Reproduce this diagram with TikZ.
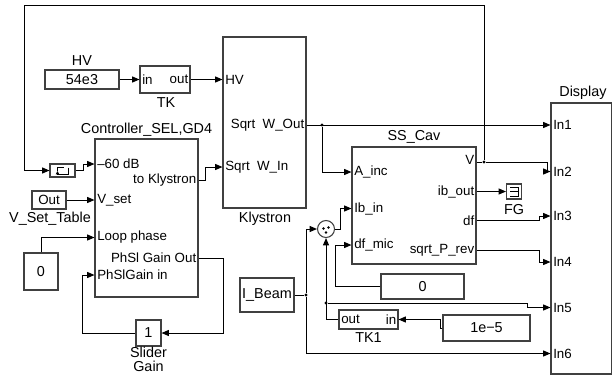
\documentclass[tikz,border=0pt]{standalone}
\usepackage{fontspec}
\setmainfont{Liberation Sans}
\usetikzlibrary{arrows.meta}
\tikzset{
  blk/.style={draw=black!75, line width=0.8pt, inner sep=0pt, fill=white},
  wh/.style 2 args={minimum width=#1*0.75pt, minimum height=#2*0.75pt},
  wire/.style={line width=0.75pt, black},
  arr/.style={wire, -{Triangle[length=5.5pt,width=4.5pt]}},
  jdot/.style={circle, fill=black, inner sep=0pt, minimum size=2.5pt},
  port/.style={font=\fontsize{10pt}{11pt}\selectfont, inner sep=0pt},
  lbl/.style={font=\fontsize{10.8pt}{12pt}\selectfont, inner sep=0pt},
  txt/.style={font=\fontsize{10.8pt}{12pt}\selectfont},
}
\begin{document}
\begin{tikzpicture}[x=0.75pt,y=-0.75pt]
\useasboundingbox (0,0) rectangle (613,375);

% ---------- blocks ----------
\node[blk, wh={74}{19}, txt] (hvc) at (82,79.5) {54e3};
\node[blk, wh={50}{27}] (tk) at (165,79.5) {};
\node[blk, wh={83}{171}] (klys) at (264.5,122.5) {};
\node[blk, wh={25}{13}] (delay) at (62.5,170.5) {};
\node[blk, wh={103}{158}] (ctrl) at (146.5,218) {};
\node[blk, wh={34}{18}, port] (vset) at (49,200) {Out};
\node[blk, wh={34}{37}, txt] (zeroA) at (41,271.5) {0};
\node[blk, wh={25}{26}, txt] (slider) at (148.5,333) {1};
\node[blk, wh={124}{117}] (ss) at (414,205.5) {};
\node[blk, wh={15}{15}] (fg) at (514,191.5) {};
\node[blk, wh={60.5}{271}] (disp) at (581.25,238.5) {};
\node[blk, circle, minimum size=17*0.75pt] (sum) at (326,229) {};
\node[blk, wh={54}{34}, txt] (ibeam) at (267,295) {I\_Beam};
\node[blk, wh={59}{19}] (tkone) at (368.5,319.5) {};
\node[blk, wh={83}{25}, txt] (zeroB) at (422.5,286.5) {0};
\node[blk, wh={87}{26}, txt] (cst) at (486.5,328) {1e−5};

% icons
\draw[line width=0.7pt] (68,167.5) -- (68,174) -- (57.5,174);
\draw[line width=0.7pt,-{Triangle[length=2.5pt,width=2.5pt]}] (57.5,174) -- (57.5,171);
\draw[line width=0.7pt] (57.5,171) -- (57.5,167.5) -- (64,167.5);
\draw[line width=0.7pt] (510,187) -- (518.5,187) -- (518.5,196) -- (510,196)
  (510,191.5) -- (518.5,191.5);
\fill (323.5,228.5) circle (1pt) (328.5,227.5) circle (1pt) (326,232.5) circle (1pt);

% ---------- block labels ----------
\node[lbl] (lhv) at (82,61) {HV};
\node[lbl] (ltk) at (166,103) {TK};
\node[lbl] (lctrl) at (146.5,130) {Controller\_SEL,GD4};
\node[lbl] (lklys) at (265,219) {Klystron};
\node[lbl] (lvset) at (50,219) {V\_Set\_Table};
\node[lbl] (lsl1) at (148.5,352.5) {Slider};
\node[lbl] (lsl2) at (148.5,366.5) {Gain};
\node[lbl] (lss) at (414,137) {SS\_Cav};
\node[lbl] (lfg) at (514,210) {FG};
\node[lbl] (ltk1) at (368.5,338) {TK1};
\node[lbl] (ldisp) at (583,93) {Display};

% ---------- port labels ----------
\node[port, anchor=west] (tkin) at (142,79.5) {in};
\node[port, anchor=east] (tkout) at (188.5,79.5) {out};
\node[port, anchor=west] (khv) at (225,79.5) {HV};
\node[port, anchor=east] (kwo) at (304.5,125) {Sqrt\ \ W\_Out};
\node[port, anchor=west] (kwi) at (225,167) {Sqrt\ \ W\_In};
\node[port, anchor=west] (c1) at (97,164) {–60 dB};
\node[port, anchor=east] (c2) at (196.5,180) {to Klystron};
\node[port, anchor=west] (c3) at (97,200) {V\_set};
\node[port, anchor=west] (c4) at (97,237.5) {Loop phase};
\node[port, anchor=east] (c5) at (196.5,258) {PhSl Gain Out};
\node[port, anchor=west] (c6) at (97,275) {PhSlGain in};
\node[port, anchor=west] (s1) at (354,172) {A\_inc};
\node[port, anchor=west] (s2) at (354,208.5) {Ib\_in};
\node[port, anchor=west] (s3) at (354,245) {df\_mic};
\node[port, anchor=east] (s4) at (474.5,160) {V};
\node[port, anchor=east] (s5) at (474.5,191.5) {ib\_out};
\node[port, anchor=east] (s6) at (474.5,220.5) {df};
\node[port, anchor=east] (s7) at (474.5,250) {sqrt\_P\_rev};
\node[port, anchor=west] (t1) at (341,319.5) {out};
\node[port, anchor=east] (t2) at (396.5,319.5) {in};
\foreach \i/\y in {1/125,2/171.5,3/216,4/262,5/307.5,6/353.5}
  \node[port, anchor=west] (in\i) at (553,\y) {In\i};

% ---------- junctions ----------
\node[jdot] (jv) at (484,162) {};
\node[jdot] (jw) at (322,125) {};
\node[jdot] (jb) at (306,295) {};
\node[jdot] (jt) at (326,303) {};

% ---------- connectors ----------
\draw[arr] (hvc.east) -- (tk.west);
\draw[arr] (tk.east) -- (klys.west |- tk.east);
\draw[wire] (ss.east |- jv) -- (jv);
\draw[arr] (jv) -- (484,5) -- (24,5) -- (24,170.5) -- (delay.west);
\draw[arr] (jv) -- (547,162) -- (547,171.5) -- (disp.west |- in2);
\draw[arr] (delay.east) -- (83,170.5) -- (83,164) -- (ctrl.west |- c1);
\draw[arr] (ctrl.east |- c2) -- (205,180) -- (205,167) -- (klys.west |- kwi);
\draw[arr] (vset.east) -- (ctrl.west |- c3);
\draw[arr] (zeroA.north) -- (41,237.5) -- (ctrl.west |- c4);
\draw[arr] (ctrl.east |- c5) -- (223,258) -- (223,333) -- (slider.east);
\draw[arr] (slider.west) -- (82,333) -- (82,275) -- (ctrl.west |- c6);
\draw[arr] (klys.east |- kwo) -- (disp.west |- in1);
\draw[arr] (jw) -- (322,172) -- (ss.west |- s1);
\draw[arr] (ss.east |- s5) -- (fg.west);
\draw[arr] (ss.east |- s6) -- (539,220.5) -- (539,216) -- (disp.west |- in3);
\draw[arr] (ss.east |- s7) -- (539,250) -- (539,262) -- (disp.west |- in4);
\draw[arr] (sum.east) -- (340,229) -- (340,208.5) -- (ss.west |- s2);
\draw[arr] (zeroB.west) -- (335,286.5) -- (335,245) -- (ss.west |- s3);
\draw[wire] (ibeam.east) -- (jb);
\draw[arr] (jb) -- (306,229) -- (sum.west);
\draw[arr] (jb) -- (306,353.5) -- (disp.west |- in6);
\draw[arr] (tkone.west) -- (326,319.5) -- (sum.south);
\draw[arr] (jt) -- (527,303) -- (527,307.5) -- (disp.west |- in5);
\draw[arr] (cst.west) -- (440,328) -- (440,319.5) -- (tkone.east);
\end{tikzpicture}
\end{document}
